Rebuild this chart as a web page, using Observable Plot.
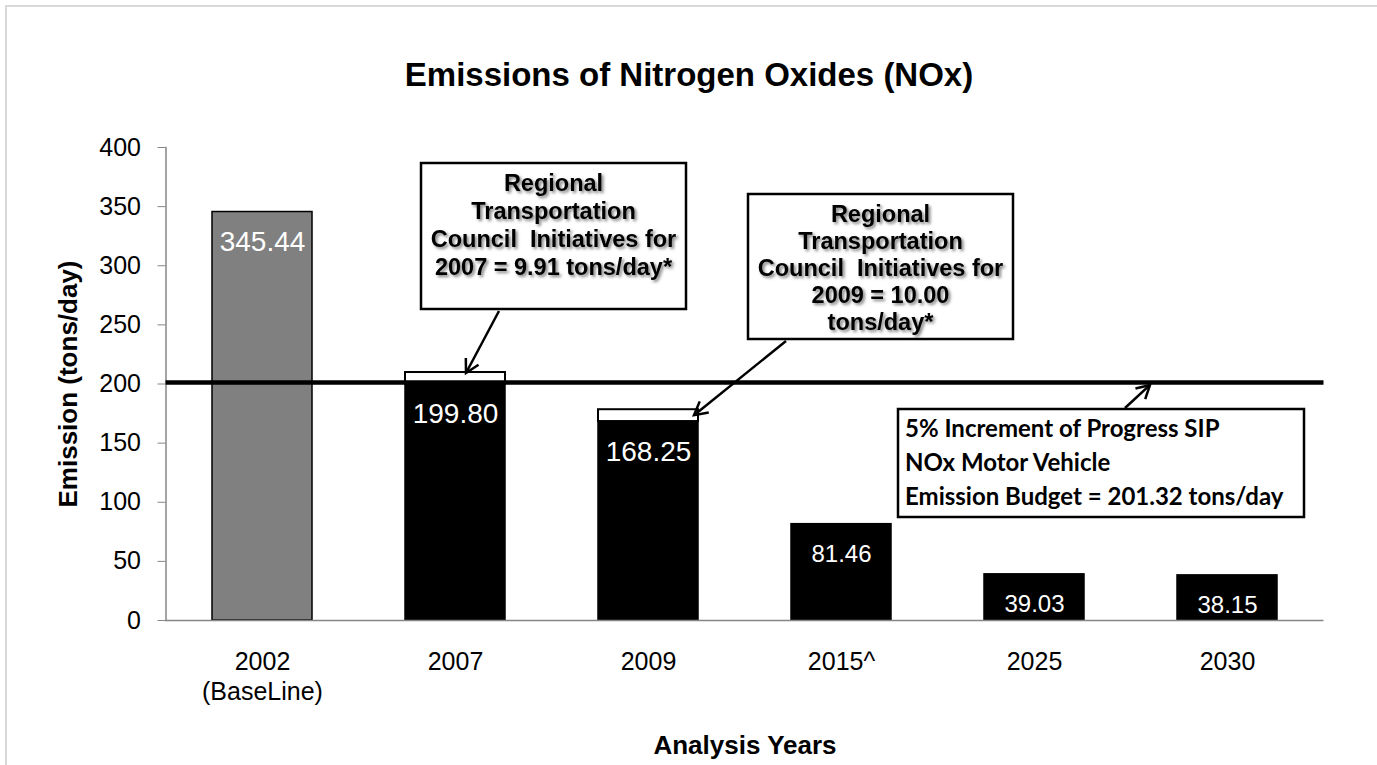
<!DOCTYPE html>
<html><head><meta charset="utf-8">
<script src="https://cdn.jsdelivr.net/npm/d3@7"></script>
<script src="https://cdn.jsdelivr.net/npm/@observablehq/plot@0.6"></script>
<style>
html,body{margin:0;padding:0;background:#fff;}
#wrap{position:relative;width:1377px;height:765px;overflow:hidden;}
#border{position:absolute;left:5px;top:5px;width:1420px;height:820px;border:2px solid #d9d9d9;box-sizing:border-box;}
#chart{position:absolute;left:0;top:0;}
</style></head><body>
<div id="wrap"><div id="border"></div><div id="chart"></div></div>
<script>
// ---- data ----
const categories = ["2002", "2007", "2009", "2015^", "2025", "2030"];
const tickLabels = ["2002\n(BaseLine)", "2007", "2009", "2015^", "2025", "2030"];
const emissions = [345.44, 199.80, 168.25, 81.46, 39.03, 38.15];
const initiatives = [0, 9.91, 10.00, 0, 0, 0];
const budget = 201.32;
const yTicks = [0, 50, 100, 150, 200, 250, 300, 350, 400];
const title = "Emissions of Nitrogen Oxides (NOx)";
const xTitle = "Analysis Years";
const yTitle = "Emission (tons/day)";
const note2007 = ["Regional", "Transportation", "Council  Initiatives for", "2007 = 9.91 tons/day*"];
const note2009 = ["Regional", "Transportation", "Council  Initiatives for", "2009 = 10.00", "tons/day*"];
const noteBudget = ["5% Increment of Progress SIP", "NOx Motor Vehicle", "Emission Budget = 201.32 tons/day"];

const rows = categories.map((c, i) => ({category: c, value: emissions[i], extra: initiatives[i], baseline: i === 0}));

const FONT = "'Liberation Sans', Arial, sans-serif";

function annotations(index, scales, values, dims) {
  const x = scales.x, y = scales.y;
  const bw = x.bandwidth ? x.bandwidth() : 100;
  const g = d3.create("svg:g");
  const defs = g.append("defs");
  defs.append("filter").attr("id", "tshadow").attr("x", "-10%").attr("y", "-30%").attr("width", "130%").attr("height", "170%")
    .append("feDropShadow").attr("dx", 2).attr("dy", 2).attr("stdDeviation", 1.8)
    .attr("flood-color", "#000").attr("flood-opacity", 0.5);

  function box(left, top, w, h, lines, o) {
    g.append("rect").attr("x", left).attr("y", top).attr("width", w).attr("height", h)
      .attr("fill", "#fff").attr("stroke", "#000").attr("stroke-width", 2.5);
    const t = g.append("g").attr("font-family", o.font).attr("font-size", o.size).attr("font-weight", "bold")
      .attr("fill", "#000");
    if (o.shadow) t.attr("filter", "url(#tshadow)");
    lines.forEach((s, i) => {
      t.append("text").attr("x", o.anchor === "middle" ? left + w / 2 : left + o.pad)
        .attr("y", top + o.first + i * o.step).attr("dy", "0.35em")
        .attr("text-anchor", o.anchor).style("white-space", "pre").text(s);
    });
  }
  function arrow(x1, y1, x2, y2) {
    g.append("line").attr("x1", x1).attr("y1", y1).attr("x2", x2).attr("y2", y2)
      .attr("stroke", "#000").attr("stroke-width", 2.5);
    const a = Math.atan2(y2 - y1, x2 - x1), L = 15, h = 0.5;
    g.append("path").attr("d",
      `M${x2 - L * Math.cos(a - h)},${y2 - L * Math.sin(a - h)}L${x2},${y2}L${x2 - L * Math.cos(a + h)},${y2 - L * Math.sin(a + h)}`)
      .attr("fill", "none").attr("stroke", "#000").attr("stroke-width", 2.5);
  }
  const x07 = x("2007"), x09 = x("2009"), x25 = x("2025");
  // box 1 (2007)
  box(x07 + 16, 163, 265, 146, note2007, {font: FONT, size: 23.5, anchor: "middle", first: 20, step: 28, shadow: true});
  arrow(x07 + 94, 311, x07 + bw / 2 + 11, y(emissions[1] + initiatives[1]) + 1);
  // box 2 (2009)
  box(x09 + 150, 194, 265, 145, note2009, {font: FONT, size: 23.5, anchor: "middle", first: 20, step: 27, shadow: true});
  arrow(x09 + 188, 341, x09 + bw - 4, y(emissions[2] + initiatives[2]) + 6);
  // box 3 (budget)
  box(x25 - 86, 409, 406, 108, noteBudget, {font: "Lato, 'Open Sans', sans-serif", size: 24, anchor: "start", pad: 7, first: 20, step: 34, shadow: false});
  arrow(x25 + 141, 408, x25 + 166, y(budget) + 3);
  return g.node();
}

const chart = Plot.plot({
  width: 1377,
  height: 765,
  marginLeft: 165.5,
  marginRight: 53.5,
  marginTop: 147,
  marginBottom: 145,
  style: {fontFamily: FONT, color: "#000", background: "transparent", overflow: "visible"},
  x: {domain: categories, paddingInner: 0.482, paddingOuter: 0.241},
  y: {domain: [0, 400]},
  marks: [
    Plot.barY(rows, {x: "category", y1: 0, y2: "value", fill: d => d.baseline ? "#808080" : "#000", stroke: "#000", strokeWidth: 1.5}),
    Plot.barY(rows.filter(d => d.extra > 0), {x: "category", y1: "value", y2: d => d.value + d.extra, fill: "#fff", stroke: "#000", strokeWidth: 2}),
    Plot.ruleY([0], {stroke: "#868686", strokeWidth: 1.5}),
    Plot.frame({anchor: "left", stroke: "#868686", strokeWidth: 1.5}),
    Plot.ruleY([budget], {stroke: "#000", strokeWidth: 4.5}),
    Plot.text(rows, {x: "category", y: "value", text: d => d.value.toFixed(2), dy: 30, fill: "#fff",
      fontSize: d => d.value > 100 ? 28 : 24}),
    Plot.axisY(yTicks, {tickSize: 8, tickPadding: 17, stroke: "#868686", fontSize: 25, label: null}),
    Plot.axisX({tickSize: 0, tickPadding: 28, fontSize: 25, label: null, lineHeight: 1.2,
      tickFormat: d => tickLabels[categories.indexOf(d)]}),
    Plot.text([title], {frameAnchor: "top", dx: -56, dy: -72, fontSize: 33, fontWeight: "bold", textAnchor: "middle", lineAnchor: "middle"}),
    Plot.text([xTitle], {frameAnchor: "bottom", dy: 125, fontSize: 26, fontWeight: "bold", textAnchor: "middle", lineAnchor: "middle"}),
    Plot.text([yTitle], {frameAnchor: "left", dx: -97, rotate: -90, fontSize: 26, fontWeight: "bold", textAnchor: "middle", lineAnchor: "middle"}),
    annotations
  ]
});
document.getElementById("chart").appendChild(chart);
</script>
</body></html>
